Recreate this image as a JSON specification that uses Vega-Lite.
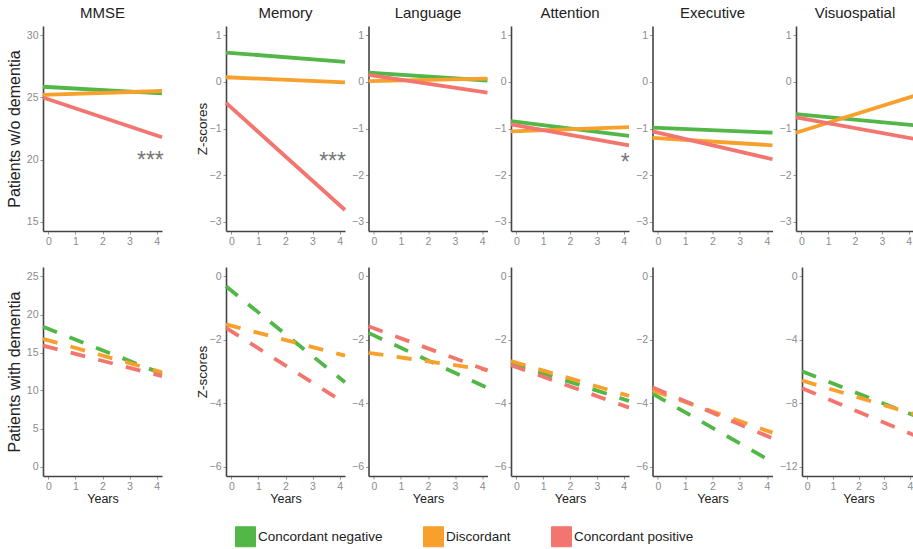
{
  "$schema": "https://vega.github.io/schema/vega-lite/v6.json",
  "padding": {"left": 6, "top": 6, "right": 0, "bottom": 0},
  "background": "white",
  "datasets": {
    "lines": [
      {"domain": "MMSE", "cohort": "without", "group": "Concordant negative", "year": -0.2, "score": 25.86},
      {"domain": "MMSE", "cohort": "without", "group": "Concordant negative", "year": 4.2, "score": 25.33},
      {"domain": "MMSE", "cohort": "without", "group": "Discordant", "year": -0.2, "score": 25.2},
      {"domain": "MMSE", "cohort": "without", "group": "Discordant", "year": 4.2, "score": 25.52},
      {"domain": "MMSE", "cohort": "without", "group": "Concordant positive", "year": -0.2, "score": 25.0},
      {"domain": "MMSE", "cohort": "without", "group": "Concordant positive", "year": 4.2, "score": 21.8},
      {"domain": "Memory", "cohort": "without", "group": "Concordant negative", "year": -0.2, "score": 0.63},
      {"domain": "Memory", "cohort": "without", "group": "Concordant negative", "year": 4.2, "score": 0.43},
      {"domain": "Memory", "cohort": "without", "group": "Discordant", "year": -0.2, "score": 0.1},
      {"domain": "Memory", "cohort": "without", "group": "Discordant", "year": 4.2, "score": -0.01},
      {"domain": "Memory", "cohort": "without", "group": "Concordant positive", "year": -0.2, "score": -0.45},
      {"domain": "Memory", "cohort": "without", "group": "Concordant positive", "year": 4.2, "score": -2.75},
      {"domain": "Language", "cohort": "without", "group": "Concordant negative", "year": -0.2, "score": 0.2},
      {"domain": "Language", "cohort": "without", "group": "Concordant negative", "year": 4.2, "score": 0.03},
      {"domain": "Language", "cohort": "without", "group": "Discordant", "year": -0.2, "score": 0.015},
      {"domain": "Language", "cohort": "without", "group": "Discordant", "year": 4.2, "score": 0.07},
      {"domain": "Language", "cohort": "without", "group": "Concordant positive", "year": -0.2, "score": 0.15},
      {"domain": "Language", "cohort": "without", "group": "Concordant positive", "year": 4.2, "score": -0.23},
      {"domain": "Attention", "cohort": "without", "group": "Concordant negative", "year": -0.2, "score": -0.84},
      {"domain": "Attention", "cohort": "without", "group": "Concordant negative", "year": 4.2, "score": -1.16},
      {"domain": "Attention", "cohort": "without", "group": "Discordant", "year": -0.2, "score": -1.06},
      {"domain": "Attention", "cohort": "without", "group": "Discordant", "year": 4.2, "score": -0.97},
      {"domain": "Attention", "cohort": "without", "group": "Concordant positive", "year": -0.2, "score": -0.91},
      {"domain": "Attention", "cohort": "without", "group": "Concordant positive", "year": 4.2, "score": -1.36},
      {"domain": "Executive", "cohort": "without", "group": "Concordant negative", "year": -0.2, "score": -0.98},
      {"domain": "Executive", "cohort": "without", "group": "Concordant negative", "year": 4.2, "score": -1.09},
      {"domain": "Executive", "cohort": "without", "group": "Discordant", "year": -0.2, "score": -1.2},
      {"domain": "Executive", "cohort": "without", "group": "Discordant", "year": 4.2, "score": -1.36},
      {"domain": "Executive", "cohort": "without", "group": "Concordant positive", "year": -0.2, "score": -1.06},
      {"domain": "Executive", "cohort": "without", "group": "Concordant positive", "year": 4.2, "score": -1.66},
      {"domain": "Visuospatial", "cohort": "without", "group": "Concordant negative", "year": -0.2, "score": -0.69},
      {"domain": "Visuospatial", "cohort": "without", "group": "Concordant negative", "year": 4.2, "score": -0.93},
      {"domain": "Visuospatial", "cohort": "without", "group": "Discordant", "year": -0.2, "score": -1.09},
      {"domain": "Visuospatial", "cohort": "without", "group": "Discordant", "year": 4.2, "score": -0.3},
      {"domain": "Visuospatial", "cohort": "without", "group": "Concordant positive", "year": -0.2, "score": -0.76},
      {"domain": "Visuospatial", "cohort": "without", "group": "Concordant positive", "year": 4.2, "score": -1.22},
      {"domain": "MMSE", "cohort": "with", "group": "Concordant negative", "year": -0.2, "score": 18.4},
      {"domain": "MMSE", "cohort": "with", "group": "Concordant negative", "year": 4.2, "score": 12.2},
      {"domain": "MMSE", "cohort": "with", "group": "Discordant", "year": -0.2, "score": 16.8},
      {"domain": "MMSE", "cohort": "with", "group": "Discordant", "year": 4.2, "score": 12.4},
      {"domain": "MMSE", "cohort": "with", "group": "Concordant positive", "year": -0.2, "score": 15.9},
      {"domain": "MMSE", "cohort": "with", "group": "Concordant positive", "year": 4.2, "score": 11.9},
      {"domain": "Memory", "cohort": "with", "group": "Concordant negative", "year": -0.2, "score": -0.31},
      {"domain": "Memory", "cohort": "with", "group": "Concordant negative", "year": 4.2, "score": -3.34},
      {"domain": "Memory", "cohort": "with", "group": "Discordant", "year": -0.2, "score": -1.51},
      {"domain": "Memory", "cohort": "with", "group": "Discordant", "year": 4.2, "score": -2.5},
      {"domain": "Memory", "cohort": "with", "group": "Concordant positive", "year": -0.2, "score": -1.62},
      {"domain": "Memory", "cohort": "with", "group": "Concordant positive", "year": 4.2, "score": -4.0},
      {"domain": "Language", "cohort": "with", "group": "Concordant negative", "year": -0.2, "score": -1.78},
      {"domain": "Language", "cohort": "with", "group": "Concordant negative", "year": 4.2, "score": -3.52},
      {"domain": "Language", "cohort": "with", "group": "Discordant", "year": -0.2, "score": -2.41},
      {"domain": "Language", "cohort": "with", "group": "Discordant", "year": 4.2, "score": -2.95},
      {"domain": "Language", "cohort": "with", "group": "Concordant positive", "year": -0.2, "score": -1.57},
      {"domain": "Language", "cohort": "with", "group": "Concordant positive", "year": 4.2, "score": -2.97},
      {"domain": "Attention", "cohort": "with", "group": "Concordant negative", "year": -0.2, "score": -2.73},
      {"domain": "Attention", "cohort": "with", "group": "Concordant negative", "year": 4.2, "score": -3.93},
      {"domain": "Attention", "cohort": "with", "group": "Discordant", "year": -0.2, "score": -2.67},
      {"domain": "Attention", "cohort": "with", "group": "Discordant", "year": 4.2, "score": -3.77},
      {"domain": "Attention", "cohort": "with", "group": "Concordant positive", "year": -0.2, "score": -2.8},
      {"domain": "Attention", "cohort": "with", "group": "Concordant positive", "year": 4.2, "score": -4.14},
      {"domain": "Executive", "cohort": "with", "group": "Concordant negative", "year": -0.2, "score": -3.7},
      {"domain": "Executive", "cohort": "with", "group": "Concordant negative", "year": 4.2, "score": -5.86},
      {"domain": "Executive", "cohort": "with", "group": "Discordant", "year": -0.2, "score": -3.6},
      {"domain": "Executive", "cohort": "with", "group": "Discordant", "year": 4.2, "score": -4.93},
      {"domain": "Executive", "cohort": "with", "group": "Concordant positive", "year": -0.2, "score": -3.5},
      {"domain": "Executive", "cohort": "with", "group": "Concordant positive", "year": 4.2, "score": -5.11},
      {"domain": "Visuospatial", "cohort": "with", "group": "Concordant negative", "year": -0.2, "score": -5.99},
      {"domain": "Visuospatial", "cohort": "with", "group": "Concordant negative", "year": 4.2, "score": -8.8},
      {"domain": "Visuospatial", "cohort": "with", "group": "Discordant", "year": -0.2, "score": -6.57},
      {"domain": "Visuospatial", "cohort": "with", "group": "Discordant", "year": 4.2, "score": -8.71},
      {"domain": "Visuospatial", "cohort": "with", "group": "Concordant positive", "year": -0.2, "score": -7.06},
      {"domain": "Visuospatial", "cohort": "with", "group": "Concordant positive", "year": 4.2, "score": -10.05}
    ],
    "stars": [
      {"domain": "MMSE", "year": 3.77, "score": 20.4, "label": "***"},
      {"domain": "Memory", "year": 3.74, "score": -1.59, "label": "***"},
      {"domain": "Attention", "year": 4.06, "score": -1.61, "label": "*"}
    ]
  },
  "vconcat": [
    {
      "spacing": 25,
      "hconcat": [
        {
          "width": 119, "height": 205, "title": "MMSE",
          "encoding": {
            "x": {"field": "year", "type": "quantitative", "scale": {"domain": [-0.2, 4.2], "nice": false, "zero": false}, "axis": {"values": [0, 1, 2, 3, 4], "title": null}},
            "y": {"field": "score", "type": "quantitative", "scale": {"domain": [14.25, 30.75], "nice": false, "zero": false}, "axis": {"values": [15, 20, 25, 30], "title": "Patients w/o dementia", "titleFontSize": 16, "titlePadding": 4}}
          },
          "layer": [
            {
              "data": {"name": "lines"},
              "transform": [{"filter": "datum.domain === 'MMSE' && datum.cohort === 'without'"}],
              "mark": {"type": "line", "strokeWidth": 3.8},
              "encoding": {
                "color": {"field": "group", "type": "nominal", "scale": {"domain": ["Concordant negative", "Discordant", "Concordant positive"], "range": ["#52B747", "#F7A02C", "#F2766F"]},
                  "legend": {"title": null, "orient": "none", "legendX": 192, "legendY": 500, "direction": "horizontal", "columnPadding": 38, "labelFontSize": 13.5, "labelColor": "#222", "labelOffset": 2, "symbolType": "square", "symbolSize": 400,
                    "encode": {"symbols": {"update": {"fill": {"scale": "color", "field": "value"}, "stroke": {"value": "#333"}, "strokeWidth": {"value": 1}, "shape": {"value": "square"}, "size": {"value": 400}, "opacity": {"value": 1}, "fillOpacity": {"value": 1}, "strokeDash": {"value": []}}}}}}
              }
            },
            {
              "data": {"name": "stars"},
              "transform": [{"filter": "datum.domain === 'MMSE'"}],
              "mark": {"type": "text", "fontSize": 23, "color": "#777", "baseline": "middle", "align": "center", "dy": 6},
              "encoding": {"text": {"field": "label"}}
            }
          ]
        },
        {
          "spacing": -1.5,
          "hconcat": [
            {
              "width": 119, "height": 205, "title": "Memory",
              "encoding": {
                "x": {"field": "year", "type": "quantitative", "scale": {"domain": [-0.2, 4.2], "nice": false, "zero": false}, "axis": {"values": [0, 1, 2, 3, 4], "title": null}},
                "y": {"field": "score", "type": "quantitative", "scale": {"domain": [-3.2, 1.2], "nice": false, "zero": false}, "axis": {"values": [-3, -2, -1, 0, 1], "title": "Z-scores", "titlePadding": 0}}
              },
              "layer": [
                {
                  "data": {"name": "lines"},
                  "transform": [{"filter": "datum.domain === 'Memory' && datum.cohort === 'without'"}],
                  "mark": {"type": "line", "strokeWidth": 3.8},
                  "encoding": {"color": {"field": "group", "type": "nominal"}}
                },
                {
                  "data": {"name": "stars"},
                  "transform": [{"filter": "datum.domain === 'Memory'"}],
                  "mark": {"type": "text", "fontSize": 23, "color": "#777", "baseline": "middle", "align": "center", "dy": 6},
                  "encoding": {"text": {"field": "label"}}
                }
              ]
            },
            {
              "width": 119, "height": 205, "title": "Language",
              "data": {"name": "lines"},
              "transform": [{"filter": "datum.domain === 'Language' && datum.cohort === 'without'"}],
              "mark": {"type": "line", "strokeWidth": 3.8},
              "encoding": {
                "x": {"field": "year", "type": "quantitative", "scale": {"domain": [-0.2, 4.2], "nice": false, "zero": false}, "axis": {"values": [0, 1, 2, 3, 4], "title": null}},
                "y": {"field": "score", "type": "quantitative", "scale": {"domain": [-3.2, 1.2], "nice": false, "zero": false}, "axis": {"values": [-3, -2, -1, 0, 1], "title": null}},
                "color": {"field": "group", "type": "nominal"}
              }
            },
            {
              "width": 118, "height": 205, "title": "Attention",
              "encoding": {
                "x": {"field": "year", "type": "quantitative", "scale": {"domain": [-0.2, 4.2], "nice": false, "zero": false}, "axis": {"values": [0, 1, 2, 3, 4], "title": null}},
                "y": {"field": "score", "type": "quantitative", "scale": {"domain": [-3.2, 1.2], "nice": false, "zero": false}, "axis": {"values": [-3, -2, -1, 0, 1], "title": null}}
              },
              "layer": [
                {
                  "data": {"name": "lines"},
                  "transform": [{"filter": "datum.domain === 'Attention' && datum.cohort === 'without'"}],
                  "mark": {"type": "line", "strokeWidth": 3.8},
                  "encoding": {"color": {"field": "group", "type": "nominal"}}
                },
                {
                  "data": {"name": "stars"},
                  "transform": [{"filter": "datum.domain === 'Attention'"}],
                  "mark": {"type": "text", "fontSize": 23, "color": "#777", "baseline": "middle", "align": "center", "dy": 6},
                  "encoding": {"text": {"field": "label"}}
                }
              ]
            },
            {
              "width": 120, "height": 205, "title": "Executive",
              "data": {"name": "lines"},
              "transform": [{"filter": "datum.domain === 'Executive' && datum.cohort === 'without'"}],
              "mark": {"type": "line", "strokeWidth": 3.8},
              "encoding": {
                "x": {"field": "year", "type": "quantitative", "scale": {"domain": [-0.2, 4.2], "nice": false, "zero": false}, "axis": {"values": [0, 1, 2, 3, 4], "title": null}},
                "y": {"field": "score", "type": "quantitative", "scale": {"domain": [-3.2, 1.2], "nice": false, "zero": false}, "axis": {"values": [-3, -2, -1, 0, 1], "title": null}},
                "color": {"field": "group", "type": "nominal"}
              }
            },
            {
              "width": 118, "height": 205, "title": "Visuospatial",
              "data": {"name": "lines"},
              "transform": [{"filter": "datum.domain === 'Visuospatial' && datum.cohort === 'without'"}],
              "mark": {"type": "line", "strokeWidth": 3.8},
              "encoding": {
                "x": {"field": "year", "type": "quantitative", "scale": {"domain": [-0.2, 4.2], "nice": false, "zero": false}, "axis": {"values": [0, 1, 2, 3, 4], "title": null}},
                "y": {"field": "score", "type": "quantitative", "scale": {"domain": [-3.2, 1.2], "nice": false, "zero": false}, "axis": {"values": [-3, -2, -1, 0, 1], "title": null}},
                "color": {"field": "group", "type": "nominal"}
              }
            }
          ]
        }
      ]
    },
    {
      "spacing": 25,
      "hconcat": [
        {
          "width": 119, "height": 209,
          "data": {"name": "lines"},
          "transform": [{"filter": "datum.domain === 'MMSE' && datum.cohort === 'with'"}],
          "mark": {"type": "line", "strokeWidth": 3.8, "strokeDash": [15, 13.5]},
          "encoding": {
            "x": {"field": "year", "type": "quantitative", "scale": {"domain": [-0.2, 4.2], "nice": false, "zero": false}, "axis": {"values": [0, 1, 2, 3, 4], "title": "Years"}},
            "y": {"field": "score", "type": "quantitative", "scale": {"domain": [-1.25, 26.25], "nice": false, "zero": false}, "axis": {"values": [0, 5, 10, 15, 20, 25], "title": "Patients with dementia", "titleFontSize": 16, "titlePadding": 4}},
            "color": {"field": "group", "type": "nominal"}
          }
        },
        {
          "spacing": -1.5,
          "hconcat": [
            {
              "width": 119, "height": 209,
              "data": {"name": "lines"},
              "transform": [{"filter": "datum.domain === 'Memory' && datum.cohort === 'with'"}],
              "mark": {"type": "line", "strokeWidth": 3.8, "strokeDash": [15, 13.5]},
              "encoding": {
                "x": {"field": "year", "type": "quantitative", "scale": {"domain": [-0.2, 4.2], "nice": false, "zero": false}, "axis": {"values": [0, 1, 2, 3, 4], "title": "Years"}},
                "y": {"field": "score", "type": "quantitative", "scale": {"domain": [-6.3, 0.3], "nice": false, "zero": false}, "axis": {"values": [-6, -4, -2, 0], "title": "Z-scores", "titlePadding": 0}},
                "color": {"field": "group", "type": "nominal"}
              }
            },
            {
              "width": 119, "height": 209,
              "data": {"name": "lines"},
              "transform": [{"filter": "datum.domain === 'Language' && datum.cohort === 'with'"}],
              "mark": {"type": "line", "strokeWidth": 3.8, "strokeDash": [15, 13.5]},
              "encoding": {
                "x": {"field": "year", "type": "quantitative", "scale": {"domain": [-0.2, 4.2], "nice": false, "zero": false}, "axis": {"values": [0, 1, 2, 3, 4], "title": "Years"}},
                "y": {"field": "score", "type": "quantitative", "scale": {"domain": [-6.3, 0.3], "nice": false, "zero": false}, "axis": {"values": [-6, -4, -2, 0], "title": null}},
                "color": {"field": "group", "type": "nominal"}
              }
            },
            {
              "width": 118, "height": 209,
              "data": {"name": "lines"},
              "transform": [{"filter": "datum.domain === 'Attention' && datum.cohort === 'with'"}],
              "mark": {"type": "line", "strokeWidth": 3.8, "strokeDash": [15, 13.5]},
              "encoding": {
                "x": {"field": "year", "type": "quantitative", "scale": {"domain": [-0.2, 4.2], "nice": false, "zero": false}, "axis": {"values": [0, 1, 2, 3, 4], "title": "Years"}},
                "y": {"field": "score", "type": "quantitative", "scale": {"domain": [-6.3, 0.3], "nice": false, "zero": false}, "axis": {"values": [-6, -4, -2, 0], "title": null}},
                "color": {"field": "group", "type": "nominal"}
              }
            },
            {
              "width": 120, "height": 209,
              "data": {"name": "lines"},
              "transform": [{"filter": "datum.domain === 'Executive' && datum.cohort === 'with'"}],
              "mark": {"type": "line", "strokeWidth": 3.8, "strokeDash": [15, 13.5]},
              "encoding": {
                "x": {"field": "year", "type": "quantitative", "scale": {"domain": [-0.2, 4.2], "nice": false, "zero": false}, "axis": {"values": [0, 1, 2, 3, 4], "title": "Years"}},
                "y": {"field": "score", "type": "quantitative", "scale": {"domain": [-6.3, 0.3], "nice": false, "zero": false}, "axis": {"values": [-6, -4, -2, 0], "title": null}},
                "color": {"field": "group", "type": "nominal"}
              }
            },
            {
              "width": 113, "height": 209,
              "data": {"name": "lines"},
              "transform": [{"filter": "datum.domain === 'Visuospatial' && datum.cohort === 'with'"}],
              "mark": {"type": "line", "strokeWidth": 3.8, "strokeDash": [15, 13.5]},
              "encoding": {
                "x": {"field": "year", "type": "quantitative", "scale": {"domain": [-0.2, 4.2], "nice": false, "zero": false}, "axis": {"values": [0, 1, 2, 3, 4], "title": "Years"}},
                "y": {"field": "score", "type": "quantitative", "scale": {"domain": [-12.6, 0.6], "nice": false, "zero": false}, "axis": {"values": [-12, -8, -4, 0], "title": null}},
                "color": {"field": "group", "type": "nominal"}
              }
            }
          ]
        }
      ]
    }
  ],
  "spacing": 20,
  "resolve": {"scale": {"x": "independent", "y": "independent"}},
  "config": {
    "font": "Liberation Sans",
    "view": {"stroke": null},
    "concat": {"spacing": -1.5},
    "axis": {"grid": false, "minExtent": 0, "domainColor": "#444444", "domainWidth": 1.6, "tickColor": "#999999", "tickSize": 3, "tickWidth": 1, "labelColor": "#8c8c8c", "labelFontSize": 10.5, "labelPadding": 2, "titleColor": "#222222", "titleFontWeight": "normal"},
    "axisX": {"labelFlush": false, "labelOverlap": false, "titleFontSize": 12.5, "titlePadding": 1},
    "axisY": {"titleFontSize": 13.5, "titlePadding": 3, "labelOverlap": false, "minExtent": 0},
    "title": {"fontSize": 15, "fontWeight": "normal", "color": "#222222", "offset": 5}
  }
}
